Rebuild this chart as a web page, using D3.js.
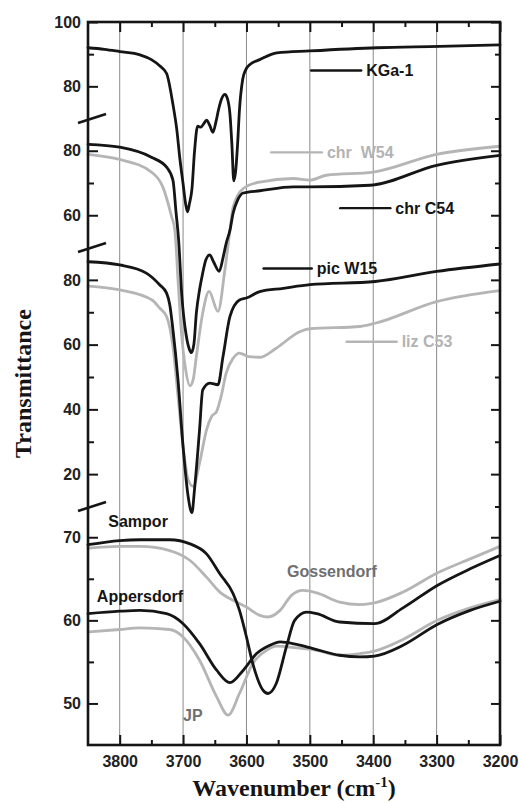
<!DOCTYPE html>
<html>
<head>
<meta charset="utf-8">
<script src="https://cdn.jsdelivr.net/npm/d3@7"></script>
<style>
  body { margin: 0; background: #fff; }
  svg { display: block; font-family: "Liberation Sans", Arial, sans-serif; }
  .grid line { stroke: #8a8a8a; stroke-width: 1; }
  .curve { fill: none; stroke-width: 2.8; stroke-linejoin: round; stroke-linecap: round; }
  .dark { stroke: #151515; }
  .light { stroke: #b5b5b5; }
  .axis line { stroke: #151515; stroke-width: 2; }
  .axis text { font-family: "Liberation Sans", Arial, sans-serif; font-size: 16px; font-weight: bold; fill: #222; }
  .frame { fill: none; stroke: #151515; stroke-width: 2.6; }
  .brk { stroke: #151515; stroke-width: 2.6; }
  .lab { font-size: 16px; font-weight: bold; white-space: pre; }
  .title { font-family: "Liberation Serif", "Times New Roman", serif; font-size: 24px; font-weight: bold; fill: #151515; }
</style>
</head>
<body>
<svg id="chart" width="519" height="803"></svg>
<script>
// wavenumber (cm-1), transmittance — one array per spectrum
const kga1 = [[3850,92.0],[3824,91.5],[3800,90.8],[3768,89.8],[3750,88.3],[3737,86.4],[3726,84.0],[3716,74.4],[3710,66.7],[3705,57.4],[3700,49.7],[3696,43.5],[3693,41.0],[3690,43.5],[3686,48.1],[3682,59.6],[3677,67.6],[3672,67.3],[3667,68.5],[3663,69.5],[3658,67.9],[3653,65.7],[3648,69.1],[3644,72.8],[3639,76.2],[3634,77.5],[3630,76.2],[3626,71.3],[3623,62.0],[3620,50.6],[3617,53.7],[3614,62.0],[3611,72.8],[3606,82.1],[3601,85.2],[3595,86.7],[3579,88.3],[3552,90.4],[3500,91.0],[3394,92.0],[3295,92.4],[3200,92.9]];
const chrW54 = [[3850,78.9],[3800,77.3],[3750,73.4],[3732,68.8],[3718,59.5],[3713,55.4],[3708,40.0],[3703,24.6],[3696,12.2],[3689,7.1],[3684,9.1],[3679,16.3],[3669,29.7],[3659,36.4],[3645,30.2],[3634,43.1],[3626,55.4],[3621,62.6],[3605,68.3],[3579,70.3],[3526,71.4],[3500,70.9],[3474,72.4],[3400,73.4],[3300,78.9],[3200,81.4]];
const chrC54 = [[3850,82.0],[3800,81.1],[3750,78.0],[3726,74.9],[3716,70.9],[3711,60.7],[3707,52.3],[3702,35.1],[3695,22.7],[3690,18.4],[3687,17.4],[3683,19.9],[3679,29.8],[3674,36.9],[3669,42.1],[3664,46.2],[3658,47.7],[3652,45.6],[3643,42.6],[3637,46.8],[3632,51.3],[3626,55.4],[3621,60.7],[3614,64.7],[3605,66.9],[3579,67.6],[3526,68.8],[3500,68.8],[3405,69.3],[3300,75.5],[3200,78.6]];
const picW15 = [[3850,85.6],[3800,84.6],[3758,82.1],[3737,78.5],[3726,75.9],[3721,72.3],[3716,64.6],[3708,49.1],[3700,28.5],[3692,13.1],[3686,8.1],[3682,15.2],[3674,33.7],[3669,46.0],[3658,48.1],[3645,47.6],[3637,56.3],[3626,68.7],[3611,73.8],[3600,74.4],[3579,76.4],[3542,77.4],[3500,78.5],[3397,79.5],[3300,82.6],[3200,84.9]];
const lizC53 = [[3850,78.1],[3800,76.9],[3749,73.8],[3737,71.3],[3726,68.7],[3716,59.4],[3708,44.0],[3700,28.5],[3692,18.3],[3684,16.2],[3674,23.4],[3663,33.7],[3655,37.8],[3647,39.4],[3640,44.0],[3632,51.2],[3621,55.8],[3611,57.4],[3597,56.3],[3579,56.1],[3553,58.9],[3516,64.0],[3500,64.9],[3421,65.6],[3397,66.6],[3300,73.3],[3200,76.7]];
const sampor = [[3850,69.1],[3800,69.6],[3768,69.7],[3721,69.7],[3689,69.2],[3663,68.0],[3642,65.6],[3621,63.2],[3611,61.2],[3600,58.0],[3590,54.8],[3574,51.6],[3566,51.2],[3553,52.4],[3537,56.8],[3524,60.0],[3505,61.0],[3489,60.8],[3453,59.8],[3398,59.6],[3353,61.5],[3299,64.2],[3247,66.2],[3200,67.8]];
const gossendorf = [[3850,68.7],[3800,68.9],[3768,68.9],[3721,68.4],[3689,67.2],[3663,65.2],[3642,63.4],[3621,62.4],[3600,61.6],[3579,60.6],[3566,60.4],[3547,61.2],[3529,63.0],[3511,63.6],[3489,63.3],[3453,62.2],[3421,61.9],[3398,62.1],[3353,63.4],[3299,65.7],[3247,67.4],[3200,68.9]];
const appersdorf = [[3850,60.8],[3800,61.1],[3768,61.2],[3726,60.8],[3700,59.6],[3674,57.2],[3647,54.0],[3626,52.5],[3605,54.0],[3584,56.0],[3563,57.0],[3547,57.4],[3521,57.1],[3495,56.6],[3453,55.8],[3421,55.6],[3398,55.7],[3353,57.0],[3299,59.5],[3247,61.2],[3200,62.3]];
const jp = [[3850,58.6],[3800,58.9],[3768,59.1],[3721,58.9],[3700,58.0],[3674,55.2],[3647,50.8],[3629,48.6],[3611,51.2],[3590,54.8],[3568,56.4],[3553,56.9],[3521,56.7],[3489,56.4],[3453,55.8],[3421,56.0],[3398,56.3],[3353,57.7],[3299,60.0],[3247,61.5],[3200,62.5]];

// broken y axis: value range shown in each stacked panel, top to bottom
const panelDomains = [[70, 100], [50, 90], [10, 90], [45, 73.7]];
const panelMajor = [[80, 100], [60, 80], [20, 40, 60, 80], [50, 60, 70]];
const panelMinor = [[90], [70], [30, 50, 70], [55, 65]];
const panelEdge = [[70], [50], [10], []];

const xDomain = [3850, 3200];
const xMajor = [3800, 3700, 3600, 3500, 3400, 3300, 3200];
const xMinor = [3750, 3650, 3550, 3450, 3350, 3250];
const gridValues = [3800, 3700, 3600, 3500, 3400, 3300];

// labelled lines (name, panel, wavenumber range of the key line, value)
const keyNames = ["KGa-1", "chr  W54", "chr C54", "pic W15", "liz C53"];
const keyPanel = [0, 1, 1, 2, 2];
const keyFrom = [3498, 3561, 3452, 3573, 3442];
const keyTo = [3419, 3481, 3373, 3497, 3363];
const keyValue = [84.9, 79.5, 62.2, 83.5, 60.9];

// plain text labels in the bottom panel
const tagNames = ["Sampor", "Appersdorf", "Gossendorf", "JP"];
const tagWave = [3818, 3836, 3536, 3700];
const tagValue = [71.9, 62.9, 65.85, 48.6];

const svg = d3.select("#chart");
const plotLeft = 88, plotRight = 500, plotTop = 22, plotBottom = 745;
const breaks = [plotTop, 118.5, 247.5, 506.5, plotBottom];

const x = d3.scaleLinear().domain(xDomain).range([plotLeft, plotRight]);
const y = panelDomains.map((d, i) => d3.scaleLinear().domain(d).range([breaks[i + 1], breaks[i]]));

// vertical grid
svg.append("g").attr("class", "grid")
  .selectAll("line").data(gridValues).join("line")
  .attr("x1", d => x(d)).attr("x2", d => x(d))
  .attr("y1", plotTop).attr("y2", plotBottom);

// spectra
const series = [
  { data: kga1, panel: 0, tone: "dark" },
  { data: chrW54, panel: 1, tone: "light" },
  { data: chrC54, panel: 1, tone: "dark" },
  { data: lizC53, panel: 2, tone: "light" },
  { data: picW15, panel: 2, tone: "dark" },
  { data: gossendorf, panel: 3, tone: "light" },
  { data: jp, panel: 3, tone: "light" },
  { data: sampor, panel: 3, tone: "dark" },
  { data: appersdorf, panel: 3, tone: "dark" }
];

const curves = svg.append("g");
series.forEach(s => {
  const line = d3.line()
    .x(d => x(d[0]))
    .y(d => y[s.panel](d[1]))
    .curve(d3.curveMonotoneX);
  curves.append("path")
    .attr("class", `curve ${s.tone}`)
    .attr("d", line(s.data));
});

// axes
function noDomain(g) { g.select(".domain").remove(); }

const axes = svg.append("g").attr("class", "axis");

axes.append("g").attr("transform", `translate(0,${plotBottom})`)
  .call(d3.axisBottom(x).tickValues(xMajor).tickSize(-10).tickPadding(11).tickFormat(d3.format("d")))
  .call(noDomain);
axes.append("g").attr("transform", `translate(0,${plotBottom})`)
  .call(d3.axisBottom(x).tickValues(xMinor).tickSize(-5).tickFormat(""))
  .call(noDomain);
axes.append("g").attr("transform", `translate(0,${plotTop})`)
  .call(d3.axisTop(x).tickValues(xMajor).tickSize(-10).tickFormat(""))
  .call(noDomain);
axes.append("g").attr("transform", `translate(0,${plotTop})`)
  .call(d3.axisTop(x).tickValues(xMinor).tickSize(-5).tickFormat(""))
  .call(noDomain);

y.forEach((sc, i) => {
  axes.append("g").attr("transform", `translate(${plotLeft},0)`)
    .call(d3.axisLeft(sc).tickValues(panelMajor[i]).tickSize(-10).tickPadding(7).tickFormat(d3.format("d")))
    .call(noDomain);
  axes.append("g").attr("transform", `translate(${plotLeft},0)`)
    .call(d3.axisLeft(sc).tickValues(panelMinor[i]).tickSize(-6).tickFormat(""))
    .call(noDomain);
  axes.append("g").attr("transform", `translate(${plotRight},0)`)
    .call(d3.axisRight(sc).tickValues(panelMajor[i]).tickSize(-9).tickFormat(""))
    .call(noDomain);
  axes.append("g").attr("transform", `translate(${plotRight},0)`)
    .call(d3.axisRight(sc).tickValues(panelMinor[i].concat(panelEdge[i])).tickSize(-5).tickFormat(""))
    .call(noDomain);
});

svg.append("rect").attr("class", "frame")
  .attr("x", plotLeft).attr("y", plotTop)
  .attr("width", plotRight - plotLeft).attr("height", plotBottom - plotTop);

// axis break marks
svg.append("g").selectAll("line").data(breaks.slice(1, 4)).join("line")
  .attr("class", "brk")
  .attr("x1", plotLeft - 10).attr("y1", d => d + 4.5)
  .attr("x2", plotLeft + 18).attr("y2", d => d - 4.5);

// key lines with names
const keyTone = ["dark", "light", "dark", "dark", "light"];
const keys = svg.append("g");
keyNames.forEach((name, i) => {
  const yy = y[keyPanel[i]](keyValue[i]);
  keys.append("line")
    .attr("class", `curve ${keyTone[i]}`)
    .style("stroke-width", "2.4px")
    .attr("x1", x(keyFrom[i])).attr("x2", x(keyTo[i]))
    .attr("y1", yy).attr("y2", yy);
  keys.append("text")
    .attr("class", "lab")
    .attr("x", x(keyTo[i]) + 5)
    .attr("y", yy)
    .attr("dy", "0.36em")
    .attr("fill", keyTone[i] === "light" ? "#b3b3b3" : "#151515")
    .text(name);
});

const tagFill = ["#151515", "#151515", "#6f6f6f", "#6f6f6f"];
svg.append("g").selectAll("text").data(tagNames).join("text")
  .attr("class", "lab")
  .attr("x", (d, i) => x(tagWave[i]))
  .attr("y", (d, i) => y[3](tagValue[i]))
  .attr("dy", "0.36em")
  .attr("fill", (d, i) => tagFill[i])
  .text(d => d);

// titles
svg.append("text").attr("class", "title")
  .attr("transform", `translate(31,${(plotTop + plotBottom) / 2}) rotate(-90)`)
  .attr("text-anchor", "middle")
  .text("Transmittance");

const xt = svg.append("text").attr("class", "title")
  .attr("x", (plotLeft + plotRight) / 2).attr("y", 796)
  .attr("text-anchor", "middle");
xt.append("tspan").text("Wavenumber (cm");
xt.append("tspan").attr("font-size", "15px").attr("dy", -9).text("-1");
xt.append("tspan").attr("dy", 9).text(")");
</script>
</body>
</html>
